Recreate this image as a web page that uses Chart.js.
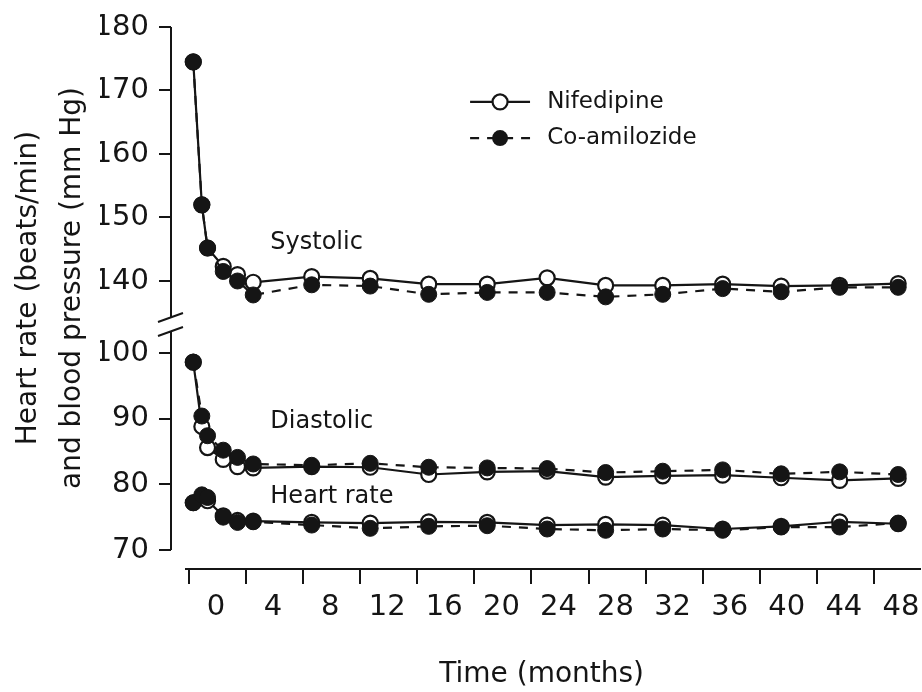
<!DOCTYPE html>
<html>
<head>
<meta charset="utf-8">
<script src="https://cdn.jsdelivr.net/npm/chart.js@4.4.1/dist/chart.umd.min.js"></script>
<style>
  html, body { margin: 0; padding: 0; background: #fff; }
  #wrap { width: 922px; height: 692px; position: relative; }
</style>
</head>
<body>
<div id="wrap"><canvas id="bpChart"></canvas></div>
<script>
// --- DATA ---
// visit times, in months on the axis tick scale
const visitMonths = [0.3, 0.9, 1.3, 2.4, 3.4, 4.5, 8.6, 12.7, 16.8, 20.9, 25.1, 29.2, 33.2, 37.4, 41.5, 45.6, 49.7];
const monthTicks = [0, 4, 8, 12, 16, 20, 24, 28, 32, 36, 40, 44, 48];
const upperTicks = [140, 150, 160, 170, 180];
const lowerTicks = [70, 80, 90, 100];

const systolicNif = [174.5, 152, 145.2, 142.3, 141, 139.8, 140.7, 140.4, 139.5, 139.5, 140.5, 139.3, 139.3, 139.5, 139.2, 139.3, 139.6];
const systolicCo  = [174.5, 152, 145.2, 141.5, 140, 137.8, 139.4, 139.2, 137.9, 138.2, 138.2, 137.5, 137.9, 138.8, 138.3, 139.0, 139.0];
const diastolicNif = [98.6, 88.8, 85.6, 83.8, 82.7, 82.5, 82.7, 82.6, 81.5, 81.9, 82.0, 81.1, 81.3, 81.4, 81.0, 80.6, 80.9];
const diastolicCo  = [98.6, 90.4, 87.4, 85.2, 84.1, 83.1, 82.9, 83.2, 82.6, 82.5, 82.4, 81.8, 82.0, 82.2, 81.6, 81.9, 81.5];
const heartNif = [77.2, 78.0, 77.5, 75.2, 74.5, 74.4, 74.2, 74.1, 74.3, 74.2, 73.8, 73.9, 73.8, 73.2, 73.6, 74.3, 74.0];
const heartCo  = [77.2, 78.4, 78.0, 75.0, 74.2, 74.3, 73.8, 73.3, 73.6, 73.7, 73.2, 73.0, 73.2, 73.0, 73.5, 73.5, 74.1];

const FONT = "'DejaVu Sans', Verdana, sans-serif";
const INK = '#151515';

const pts = (vals) => vals.map((v, i) => ({ x: visitMonths[i], y: v }));

function nifSet(label, vals, axis) {
    return {
        label: label, data: pts(vals), yAxisID: axis, order: 1,
        borderColor: INK, borderWidth: 2.2, tension: 0,
        pointRadius: 7.5, pointBorderWidth: 2.2,
        pointBackgroundColor: '#fff', pointBorderColor: INK
    };
}
function coSet(label, vals, axis) {
    return {
        label: label, data: pts(vals), yAxisID: axis, order: 0,
        borderColor: INK, borderWidth: 2.2, borderDash: [9, 8], tension: 0,
        pointRadius: 8, pointBorderWidth: 1,
        pointBackgroundColor: INK, pointBorderColor: INK
    };
}

// axis lines, the break marks, series names and legend
const decor = {
    id: 'decor',
    afterLayout(chart) {
        // lift the shared y title a little above the plot centre
        chart.scales.yTitle.bottom -= 20;
    },
    beforeDatasetsDraw(chart) {
        const ctx = chart.ctx;
        const { x, yTop, yBot } = chart.scales;
        const ax = yTop.right;
        const brk = yTop.bottom;
        ctx.save();
        ctx.strokeStyle = INK;
        ctx.lineWidth = 2;
        ctx.beginPath();
        ctx.moveTo(ax, yTop.getPixelForValue(180));
        ctx.lineTo(ax, brk - 7);
        ctx.moveTo(ax, brk + 7);
        ctx.lineTo(ax, yBot.getPixelForValue(70));
        // break marks
        ctx.moveTo(ax - 13, brk - 3); ctx.lineTo(ax + 12, brk - 12);
        ctx.moveTo(ax - 13, brk + 11); ctx.lineTo(ax + 12, brk + 2);
        // x axis line runs on to the canvas edge
        ctx.moveTo(x.getPixelForValue(-0.28), x.top);
        ctx.lineTo(chart.width - 1, x.top);
        ctx.stroke();

        ctx.fillStyle = INK;
        ctx.font = '24px ' + FONT;
        ctx.textBaseline = 'middle';
        ctx.textAlign = 'left';
        ctx.fillText('Systolic', x.getPixelForValue(5.7), yTop.getPixelForValue(146));
        ctx.fillText('Diastolic', x.getPixelForValue(5.7), yBot.getPixelForValue(89.5));
        ctx.fillText('Heart rate', x.getPixelForValue(5.7), yBot.getPixelForValue(78.1));
        ctx.restore();
    },
    afterDatasetsDraw(chart) {
        const ctx = chart.ctx;
        const { x, yTop } = chart.scales;
        const x0 = x.getPixelForValue(19.7), x1 = x.getPixelForValue(23.9);
        const xm = (x0 + x1) / 2;
        const tx = x.getPixelForValue(25.1);
        const r1 = yTop.getPixelForValue(168.2), r2 = yTop.getPixelForValue(162.5);
        ctx.save();
        ctx.strokeStyle = INK;
        ctx.lineWidth = 2.2;
        ctx.beginPath();
        ctx.moveTo(x0, r1); ctx.lineTo(x1, r1);
        ctx.stroke();
        ctx.setLineDash([9, 8]);
        ctx.beginPath();
        ctx.moveTo(x0, r2); ctx.lineTo(x1, r2);
        ctx.stroke();
        ctx.setLineDash([]);
        ctx.beginPath();
        ctx.arc(xm, r1, 7.5, 0, Math.PI * 2);
        ctx.fillStyle = '#fff';
        ctx.fill();
        ctx.stroke();
        ctx.beginPath();
        ctx.arc(xm, r2, 8, 0, Math.PI * 2);
        ctx.fillStyle = INK;
        ctx.fill();
        ctx.font = '23px ' + FONT;
        ctx.textBaseline = 'middle';
        ctx.fillText('Nifedipine', tx, r1);
        ctx.fillText('Co-amilozide', tx, r2);
        ctx.restore();
    }
};

const tickGrid = (len) => ({
    display: true, drawOnChartArea: false, drawTicks: true,
    tickLength: len, color: INK, lineWidth: 2
});

new Chart(document.getElementById('bpChart'), {
    type: 'line',
    data: {
        datasets: [
            nifSet('Nifedipine systolic', systolicNif, 'yTop'),
            coSet('Co-amilozide systolic', systolicCo, 'yTop'),
            nifSet('Nifedipine diastolic', diastolicNif, 'yBot'),
            coSet('Co-amilozide diastolic', diastolicCo, 'yBot'),
            nifSet('Nifedipine heart rate', heartNif, 'yBot'),
            coSet('Co-amilozide heart rate', heartCo, 'yBot')
        ]
    },
    options: {
        responsive: true,
        maintainAspectRatio: false,
        animation: false,
        layout: { padding: { top: 27, right: 1, bottom: 0, left: 0 } },
        plugins: { legend: { display: false }, tooltip: { enabled: false } },
        scales: {
            x: {
                type: 'linear',
                min: -1.261,
                max: 50.69,
                afterBuildTicks: (s) => { s.ticks = monthTicks.map(v => ({ value: v })); },
                afterFit: (s) => { s.height = 123; },
                border: { display: false },
                grid: tickGrid(15),
                ticks: {
                    autoSkip: false, maxRotation: 0, labelOffset: 27, padding: 6,
                    color: INK, font: { family: FONT, size: 29 }
                },
                title: {
                    display: true, text: 'Time (months)', color: INK,
                    font: { family: FONT, size: 28, lineHeight: 1.2 },
                    padding: { top: 0, bottom: 0 }
                }
            },
            yBot: {
                type: 'linear', position: 'left', stack: 'bp', stackWeight: 244,
                min: 67.11, max: 104.26,
                afterBuildTicks: (s) => { s.ticks = lowerTicks.map(v => ({ value: v })); },
                afterFit: (s) => { s.width = 71; },
                border: { display: false },
                grid: tickGrid(12),
                ticks: { padding: 10, color: INK, font: { family: FONT, size: 29, lineHeight: 1 } }
            },
            yTop: {
                type: 'linear', position: 'left', stack: 'bp', stackWeight: 298,
                min: 133.07, max: 180,
                afterBuildTicks: (s) => { s.ticks = upperTicks.map(v => ({ value: v })); },
                afterFit: (s) => { s.width = 71; },
                border: { display: false },
                grid: tickGrid(12),
                ticks: { padding: 10, color: INK, font: { family: FONT, size: 29, lineHeight: 1 } }
            },
            yTitle: {
                type: 'linear', position: 'left', weight: 1,
                min: 0, max: 1,
                afterFit: (s) => { s.width = 100; },
                border: { display: false },
                grid: { display: false },
                ticks: { display: false },
                title: {
                    display: true,
                    text: ['Heart rate (beats/min)', 'and blood pressure (mm Hg)'],
                    color: INK,
                    font: { family: FONT, size: 28, lineHeight: 1.6 },
                    padding: { top: 6, bottom: 0 }
                }
            }
        }
    },
    plugins: [decor]
});
</script>
</body>
</html>
